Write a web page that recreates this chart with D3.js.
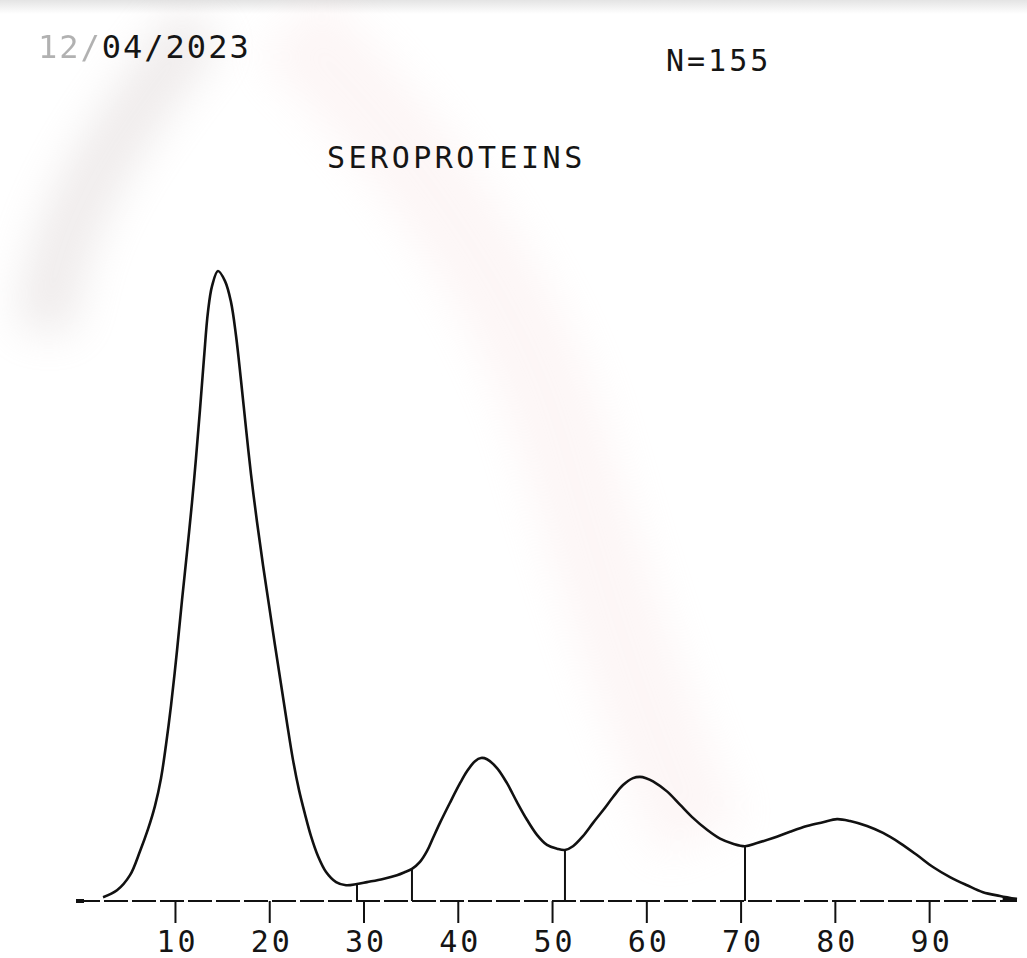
<!DOCTYPE html>
<html>
<head>
<meta charset="utf-8">
<script src="https://cdn.jsdelivr.net/npm/d3@7/dist/d3.min.js"></script>
<style>
  html, body { margin: 0; padding: 0; background: #fff; }
  svg { display: block; }
  .lbl { font-family: "DejaVu Sans Mono", monospace; fill: #151515; }
</style>
</head>
<body>
<svg id="chart" width="1027" height="958"></svg>
<script>
// ---- data ----
const mobility = [2.37, 3.85, 5.23, 6.29, 7.14, 7.88, 8.52, 9.05, 9.58, 10.22, 10.75, 11.28, 11.81, 12.23, 12.65, 13.08, 13.50, 13.93, 14.56,
  15.31, 15.94, 16.47, 17.00, 17.53, 18.06, 18.70, 19.34, 19.97, 20.61, 21.25, 21.88, 22.52, 23.16, 23.79, 24.43, 25.18, 26.03, 27.09, 28.15,
  29.31, 30.37, 32.07, 33.55, 34.40, 35.14, 35.99, 36.73, 37.37, 38.11, 39.17, 40.24, 40.98, 41.83, 42.46, 43.10, 44.16, 45.22, 46.28, 47.34,
  48.40, 49.46, 50.53, 51.37, 52.22, 53.28, 54.35, 55.41, 56.47, 57.53, 58.59, 59.33, 59.97, 60.71, 62.19, 63.57, 64.95, 66.44, 67.82, 69.19,
  70.47, 71.74, 73.44, 75.24, 77.04, 78.74, 80.23, 81.61, 83.41, 85.11, 86.91, 88.71, 90.41, 92.21, 94.02, 95.71, 97.52, 99.32];
const density = [0.6, 1.7, 4.1, 7.9, 11.4, 15.1, 19.5, 24.8, 31.0, 39.8, 47.8, 55.4, 63.3, 70.3, 77.9, 86.2, 93.5, 97.6, 100.0,
  98.4, 95.1, 89.8, 82.7, 75.1, 67.8, 60.2, 53.3, 47.0, 40.6, 34.4, 28.3, 22.4, 17.6, 13.8, 10.3, 7.1, 4.6, 3.0, 2.5,
  2.7, 3.0, 3.5, 4.1, 4.6, 5.1, 6.2, 7.9, 10.0, 12.4, 15.6, 18.7, 20.6, 22.2, 22.7, 22.5, 21.1, 18.7, 15.7, 12.9,
  10.5, 8.9, 8.3, 8.1, 8.7, 10.3, 12.4, 14.4, 16.5, 18.4, 19.5, 19.7, 19.5, 19.0, 17.4, 15.3, 13.2, 11.3, 9.9, 9.1,
  8.7, 9.2, 10.0, 11.0, 11.9, 12.5, 13.0, 12.7, 11.9, 10.8, 9.2, 7.3, 5.4, 3.8, 2.5, 1.4, 0.8, 0.3];
const fractionCuts = [29.31, 35.14, 51.37, 70.47];
const tickValues = [10, 20, 30, 40, 50, 60, 70, 80, 90];
const dateText = ["12/", "04/2023"];
const countText = "N=155";
const titleText = "SEROPROTEINS";

// ---- drawing ----
const svg = d3.select("#chart");
const defs = svg.append("defs");

// scan artefacts (paper tint)
const blur = defs.append("filter").attr("id", "blur").attr("x", "-50%").attr("y", "-50%").attr("width", "200%").attr("height", "200%");
blur.append("feGaussianBlur").attr("stdDeviation", 22);
const topGrad = defs.append("linearGradient").attr("id", "topg").attr("x1", 0).attr("y1", 0).attr("x2", 0).attr("y2", 1);
topGrad.append("stop").attr("offset", 0).attr("stop-color", "#e4e4e4");
topGrad.append("stop").attr("offset", 1).attr("stop-color", "#ffffff");
svg.append("rect").attr("x", 0).attr("y", 0).attr("width", 1027).attr("height", 14).attr("fill", "url(#topg)");
svg.append("path")
  .attr("d", "M45,330 C55,220 110,140 200,25")
  .attr("fill", "none").attr("stroke", "#d6cccc").attr("stroke-width", 55).attr("opacity", 0.4)
  .attr("filter", "url(#blur)");
svg.append("path")
  .attr("d", "M290,25 C420,150 520,300 560,430 C600,570 640,700 700,840")
  .attr("fill", "none").attr("stroke", "#f6dcdc").attr("stroke-width", 90).attr("opacity", 0.25)
  .attr("filter", "url(#blur)");

const x = d3.scaleLinear().domain([0, 100]).range([80.7, 1023.4]);
const y = d3.scaleLinear().domain([0, 100]).range([901, 271]);

const pts = mobility.map((m, i) => [m, density[i]]);

// baseline
svg.append("line")
  .attr("x1", 76).attr("x2", x(99.32)).attr("y1", y(0)).attr("y2", y(0))
  .attr("stroke", "#111").attr("stroke-width", 2.2).attr("stroke-dasharray", "24,4");
svg.append("line")
  .attr("x1", 76).attr("x2", 84).attr("y1", y(0)).attr("y2", y(0))
  .attr("stroke", "#111").attr("stroke-width", 4);

// axis ticks & labels
const axis = d3.axisBottom(x).tickValues(tickValues).tickSize(22).tickPadding(8).tickFormat(d3.format("d"));
const gAxis = svg.append("g").attr("transform", `translate(0,${y(0)})`).call(axis);
gAxis.select(".domain").remove();
gAxis.selectAll(".tick line").attr("stroke", "#111").attr("stroke-width", 2);
gAxis.selectAll(".tick text")
  .attr("class", "lbl")
  .attr("fill", "#151515")
  .style("font-family", '"DejaVu Sans Mono", monospace')
  .style("font-size", "30px")
  .style("letter-spacing", "3px")
  .attr("dx", "2px");

// fraction dividers
function densityAt(m) {
  const i = d3.bisector(d => d[0]).left(pts, m);
  const a = pts[Math.max(0, i - 1)], b = pts[Math.min(pts.length - 1, i)];
  if (a[0] === b[0]) return a[1];
  return a[1] + (b[1] - a[1]) * (m - a[0]) / (b[0] - a[0]);
}
svg.append("g").selectAll("line").data(fractionCuts).join("line")
  .attr("x1", d => x(d)).attr("x2", d => x(d))
  .attr("y1", y(0)).attr("y2", d => y(densityAt(d)))
  .attr("stroke", "#111").attr("stroke-width", 2);

// densitogram curve
const line = d3.line().x(d => x(d[0])).y(d => y(d[1])).curve(d3.curveCatmullRom.alpha(0.5));
svg.append("path").datum(pts)
  .attr("d", line)
  .attr("fill", "none").attr("stroke", "#111").attr("stroke-width", 2.6).attr("stroke-linejoin", "round");

// end blob
svg.append("line")
  .attr("x1", x(97.8)).attr("x2", x(99.32)).attr("y1", y(0.2)).attr("y2", y(0.2))
  .attr("stroke", "#111").attr("stroke-width", 4);

// header texts
const date = svg.append("text").attr("class", "lbl")
  .attr("x", 38).attr("y", 58)
  .style("font-size", "32px").style("letter-spacing", "2px");
date.append("tspan").text(dateText[0]).attr("fill", "#555").attr("opacity", 0.45);
date.append("tspan").text(dateText[1]);

svg.append("text").attr("class", "lbl")
  .attr("x", 666).attr("y", 71)
  .style("font-size", "30px").style("letter-spacing", "3px")
  .text(countText);

svg.append("text").attr("class", "lbl")
  .attr("x", 327).attr("y", 168)
  .style("font-size", "30px").style("letter-spacing", "3.5px")
  .text(titleText);
</script>
</body>
</html>
